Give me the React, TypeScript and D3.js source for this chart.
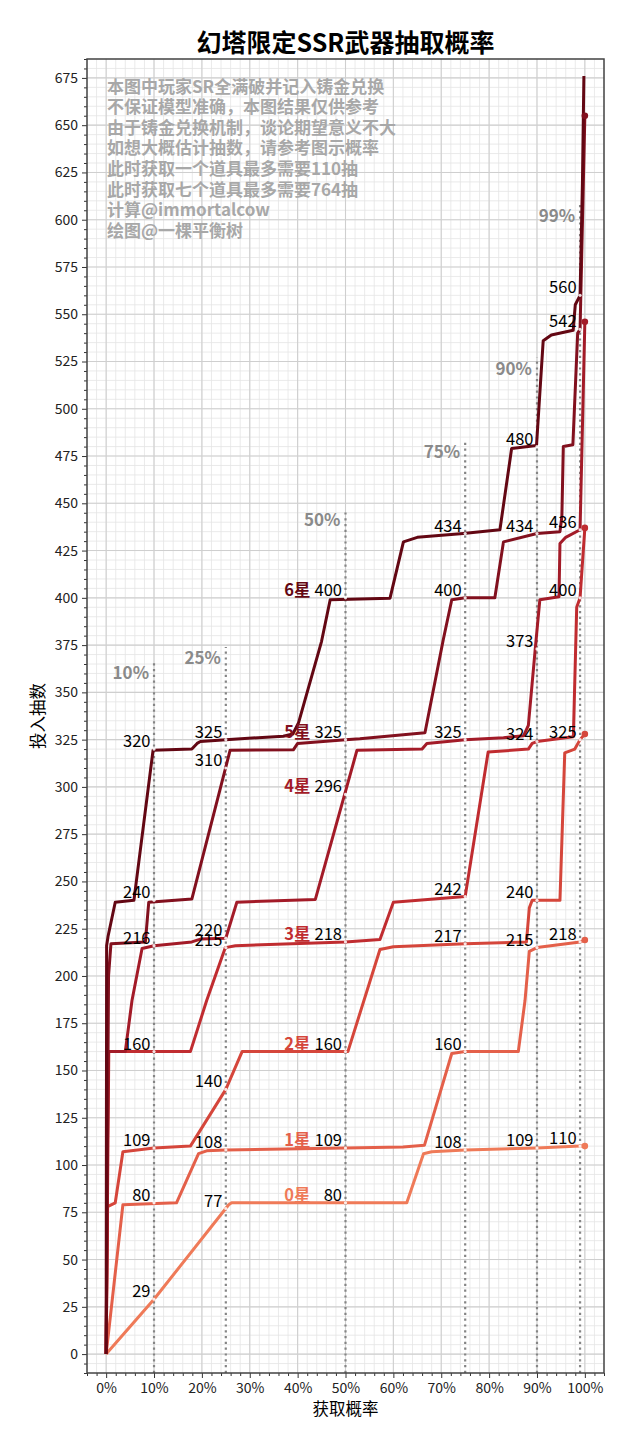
import React, { useEffect, useRef } from 'react';
import * as d3 from 'd3';

const W = 640;
const H = 1447;
const FONT = '"Noto Sans CJK SC", "Noto Sans", sans-serif';

const starNames = ['0星', '1星', '2星', '3星', '4星', '5星', '6星'];
const starColors = ['#ef7a58', '#e4604a', '#d5463b', '#c02c30', '#a31b28', '#82101e', '#630713'];

// [获取概率, 投入抽数]
const star0: [number, number][] = [
  [0, 0], [0.10, 29], [0.256, 79], [0.262, 80], [0.628, 80], [0.663, 106], [0.68, 107],
  [0.75, 108], [0.90, 109], [0.99, 110], [1.0, 110],
];
const star1: [number, number][] = [
  [0, 0], [0.035, 79], [0.147, 80], [0.193, 106], [0.21, 107.5], [0.25, 108], [0.50, 109],
  [0.62, 109.5], [0.665, 110.5], [0.722, 159], [0.75, 160], [0.861, 160], [0.875, 187],
  [0.884, 213], [0.90, 215], [0.99, 218], [1.0, 219],
];
const star2: [number, number][] = [
  [0, 0], [0.003, 78], [0.019, 80], [0.035, 107], [0.10, 109], [0.176, 110], [0.25, 140],
  [0.284, 160], [0.505, 160], [0.572, 214], [0.60, 215.5], [0.75, 217], [0.878, 218],
  [0.884, 236], [0.89, 240], [0.948, 240], [0.958, 318], [0.979, 320], [0.99, 325], [1.0, 328],
];
const star3: [number, number][] = [
  [0, 0], [0.0055, 160], [0.176, 160], [0.21, 187], [0.249, 215], [0.27, 216], [0.50, 218],
  [0.572, 219.3], [0.60, 239], [0.75, 242], [0.798, 318.5], [0.882, 320], [0.89, 323],
  [0.90, 324], [0.976, 326.5], [0.983, 395], [0.99, 400], [1.0, 437],
];
const star4: [number, number][] = [
  [0, 0], [0.004, 160], [0.04, 160], [0.054, 187], [0.075, 214.5], [0.10, 216], [0.179, 218],
  [0.197, 219.5], [0.25, 220], [0.273, 239], [0.437, 240.5], [0.524, 319.4], [0.66, 320],
  [0.67, 323], [0.75, 325], [0.83, 326], [0.872, 327], [0.882, 332.6], [0.896, 372],
  [0.906, 399], [0.946, 400.6], [0.948, 428.7], [0.96, 432], [0.99, 436], [1.0, 546],
];
const star5: [number, number][] = [
  [0, 0], [0.005, 200], [0.01, 217], [0.082, 218], [0.089, 239], [0.179, 240.7], [0.259, 319.4],
  [0.391, 319.6], [0.40, 323], [0.50, 325], [0.53, 325.5], [0.666, 328.6], [0.704, 377.6],
  [0.722, 399], [0.75, 400], [0.812, 400], [0.83, 429.6], [0.90, 434], [0.948, 435],
  [0.952, 443], [0.955, 480], [0.975, 481], [0.985, 540], [0.99, 542], [1.0, 655],
];
const star6: [number, number][] = [
  [0, 0], [0.001, 216], [0.004, 221], [0.019, 239], [0.058, 240], [0.098, 319.4], [0.179, 320],
  [0.19, 323], [0.197, 324], [0.25, 325], [0.37, 326.8], [0.39, 328], [0.402, 334], [0.45, 377],
  [0.468, 399], [0.593, 399.8], [0.621, 429.6], [0.65, 432], [0.746, 434], [0.8226, 436],
  [0.847, 479], [0.899, 480.6], [0.913, 536], [0.93, 539], [0.9756, 541.5], [0.98, 555],
  [0.99, 560], [0.995, 620], [0.998, 676],
];
const curves = [star0, star1, star2, star3, star4, star5, star6];

// end dots at 100%
const endDots = [110, 219, 328, 437, 546, 655];

// percentile guide lines
const pctLevels = [0.10, 0.25, 0.50, 0.75, 0.90, 0.99];
const pctNames = ['10%', '25%', '50%', '75%', '90%', '99%'];
const pctTops = [366, 374, 447, 483, 527, 608];

// value labels per percentile, 0星 -> 6星
const labels10 = [29, 80, 109, 160, 216, 240, 320];
const labels25 = [77, 108, 140, 215, 220, 310, 325];
const labels50 = [80, 109, 160, 218, 296, 325, 400];
const labels75 = [108, 160, 217, 242, 325, 400, 434];
const labels90 = [109, 215, 240, 324, 373, 434, 480];
const labels99 = [110, 218, 325, 400, 436, 542, 560];
const pctLabels = [labels10, labels25, labels50, labels75, labels90, labels99];

const yTicks = [0, 25, 50, 75, 100, 125, 150, 175, 200, 225, 250, 275, 300, 325, 350, 375, 400,
  425, 450, 475, 500, 525, 550, 575, 600, 625, 650, 675];
const xTicks = [0, 0.1, 0.2, 0.3, 0.4, 0.5, 0.6, 0.7, 0.8, 0.9, 1.0];

const notes = [
  '本图中玩家SR全满破并记入铸金兑换',
  '不保证模型准确，本图结果仅供参考',
  '由于铸金兑换机制，谈论期望意义不大',
  '如想大概估计抽数，请参考图示概率',
  '此时获取一个道具最多需要110抽',
  '此时获取七个道具最多需要764抽',
  '计算@immortalcow',
  '绘图@一棵平衡树',
];

const App: React.FC = () => {
  const svgRef = useRef<SVGSVGElement>(null);

  useEffect(() => {
    if (!svgRef.current) return;
    const m = { left: 87, right: 604, top: 59, bottom: 1373 };

    d3.select(svgRef.current).selectAll('*').remove();
    const svg = d3.select(svgRef.current)
      .attr('width', W)
      .attr('height', H)
      .style('font-family', FONT);

    svg.append('rect').attr('width', W).attr('height', H).attr('fill', '#fff');

    const x = d3.scaleLinear().domain([-0.04, 1.04]).range([m.left, m.right]);
    const y = d3.scaleLinear().domain([-10, 685]).range([m.bottom, m.top]);

    svg.append('defs').append('clipPath').attr('id', 'plotclip')
      .append('rect')
      .attr('x', m.left).attr('y', m.top)
      .attr('width', m.right - m.left).attr('height', m.bottom - m.top);

    // grid
    const xMinor = d3.range(-2, 53).map(i => i * 0.02);
    const yMinor = d3.range(-2, 138).map(i => i * 5);
    const grid = svg.append('g');
    grid.selectAll('line.xmin').data(xMinor).enter().append('line')
      .attr('x1', d => x(d)).attr('x2', d => x(d)).attr('y1', m.top).attr('y2', m.bottom)
      .attr('stroke', '#e4e4e4').attr('stroke-width', 0.8);
    grid.selectAll('line.ymin').data(yMinor).enter().append('line')
      .attr('y1', d => y(d)).attr('y2', d => y(d)).attr('x1', m.left).attr('x2', m.right)
      .attr('stroke', '#e4e4e4').attr('stroke-width', 0.8);
    grid.selectAll('line.xmaj').data(xTicks).enter().append('line')
      .attr('x1', d => x(d)).attr('x2', d => x(d)).attr('y1', m.top).attr('y2', m.bottom)
      .attr('stroke', '#cfcfcf').attr('stroke-width', 1.1);
    grid.selectAll('line.ymaj').data(yTicks).enter().append('line')
      .attr('y1', d => y(d)).attr('y2', d => y(d)).attr('x1', m.left).attr('x2', m.right)
      .attr('stroke', '#cfcfcf').attr('stroke-width', 1.1);

    // notes
    const noteG = svg.append('g');
    noteG.selectAll('text').data(notes).enter().append('text')
      .attr('x', 107)
      .attr('y', (_, i) => 92.5 + i * 20.6)
      .attr('font-size', 17)
      .attr('font-weight', 'bold')
      .attr('fill', '#a8a8a8')
      .text(d => d);

    // percentile dotted lines
    const pctG = svg.append('g');
    pctLevels.forEach((p, i) => {
      pctG.append('line')
        .attr('x1', x(p)).attr('x2', x(p))
        .attr('y1', m.bottom).attr('y2', y(pctTops[i]))
        .attr('stroke', '#858585').attr('stroke-width', 2.2)
        .attr('stroke-dasharray', '2.2,3.6');
      pctG.append('text')
        .attr('x', x(p) - 5).attr('y', y(pctTops[i]) + 17)
        .attr('text-anchor', 'end')
        .attr('font-size', 17).attr('font-weight', 'bold')
        .attr('fill', '#8a8a8a')
        .text(pctNames[i]);
    });

    // curves
    const line = d3.line<[number, number]>().x(d => x(d[0])).y(d => y(d[1]));
    const curveG = svg.append('g').attr('clip-path', 'url(#plotclip)');
    curves.forEach((c, i) => {
      curveG.append('path')
        .attr('d', line(c))
        .attr('fill', 'none')
        .attr('stroke', starColors[i])
        .attr('stroke-width', 3)
        .attr('stroke-linejoin', 'round');
    });
    endDots.forEach((v, i) => {
      curveG.append('circle')
        .attr('cx', x(1)).attr('cy', y(v)).attr('r', 3.3)
        .attr('fill', starColors[i]);
    });

    // value labels
    const labG = svg.append('g');
    pctLevels.forEach((p, i) => {
      pctLabels[i].forEach((v, k) => {
        labG.append('circle')
          .attr('cx', x(p)).attr('cy', y(v)).attr('r', 1.6)
          .attr('fill', '#fff').attr('opacity', 0.85);
        labG.append('text')
          .attr('x', x(p) - 3.5).attr('y', y(v) - 2)
          .attr('text-anchor', 'end')
          .attr('font-size', 16.5)
          .attr('fill', '#000')
          .text(v);
      });
    });
    labels50.forEach((v, k) => {
      labG.append('text')
        .attr('x', x(0.5) - 35).attr('y', y(v) - 2)
        .attr('text-anchor', 'end')
        .attr('font-size', 16.5).attr('font-weight', 'bold')
        .attr('fill', starColors[k])
        .text(starNames[k]);
    });

    // axes
    const yAxis = svg.append('g').attr('transform', `translate(${m.left},0)`)
      .call(d3.axisLeft(y).tickValues(yTicks).tickSize(5).tickPadding(4));
    svg.append('g').attr('transform', `translate(${m.left},0)`)
      .call(d3.axisLeft(y).tickValues(yMinor.filter(v => v % 25 !== 0 && v <= 685)).tickSize(3).tickFormat(() => ''));
    const xAxis = svg.append('g').attr('transform', `translate(0,${m.bottom})`)
      .call(d3.axisBottom(x).tickValues(xTicks).tickSize(5).tickPadding(5)
        .tickFormat(d => `${Math.round(+d * 100)}%`));
    svg.append('g').attr('transform', `translate(0,${m.bottom})`)
      .call(d3.axisBottom(x).tickValues(xMinor.filter(v => Math.abs(v * 50 - Math.round(v * 10) * 5) > 0.01))
        .tickSize(3).tickFormat(() => ''));
    svg.selectAll('.domain').remove();
    [yAxis, xAxis].forEach(a => {
      a.selectAll('text').attr('font-size', 14).attr('fill', '#222').style('font-family', FONT);
      a.selectAll('line').attr('stroke', '#333');
    });
    svg.selectAll('.tick line').attr('stroke', '#333');

    // frame
    svg.append('rect')
      .attr('x', m.left).attr('y', m.top)
      .attr('width', m.right - m.left).attr('height', m.bottom - m.top)
      .attr('fill', 'none').attr('stroke', '#444').attr('stroke-width', 1.5);

    // titles
    svg.append('text')
      .attr('x', (m.left + m.right) / 2).attr('y', 52)
      .attr('text-anchor', 'middle')
      .attr('font-size', 25).attr('font-weight', 'bold').attr('fill', '#000')
      .text('幻塔限定SSR武器抽取概率');
    svg.append('text')
      .attr('x', (m.left + m.right) / 2).attr('y', 1415)
      .attr('text-anchor', 'middle')
      .attr('font-size', 16.5).attr('fill', '#000')
      .text('获取概率');
    svg.append('text')
      .attr('transform', `translate(44,${(m.top + m.bottom) / 2}) rotate(-90)`)
      .attr('text-anchor', 'middle')
      .attr('font-size', 16.5).attr('fill', '#000')
      .text('投入抽数');
  }, []);

  return (
    <div style={{ position: 'absolute', left: 0, top: 0, width: W, height: H, background: '#fff' }}>
      <svg ref={svgRef} />
    </div>
  );
};

export default App;
